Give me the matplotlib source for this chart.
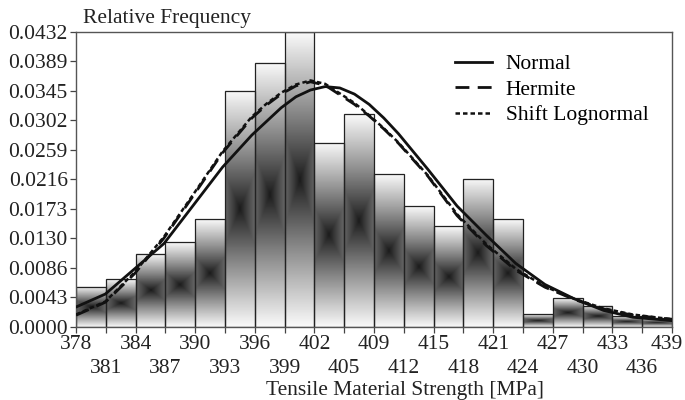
import matplotlib
matplotlib.use('Agg')
import matplotlib.pyplot as plt
from matplotlib.lines import Line2D
from matplotlib.transforms import offset_copy
import numpy as np

plt.rcParams['font.family'] = ['Liberation Serif', 'DejaVu Serif']

# histogram: 20 bins of width 3.05 from 378 to 439
bin_start = 378.0
bin_width = 3.05
rel_freq = [0.0059, 0.0070, 0.0107, 0.0124, 0.0158, 0.0346, 0.0387, 0.0432, 0.0270, 0.0312,
            0.0224, 0.0177, 0.0148, 0.0217, 0.0158, 0.0019, 0.0042, 0.0031, 0.0016, 0.0013]
tick_labels = ['378', '381', '384', '387', '390', '393', '396', '399', '402', '405', '409',
               '412', '415', '418', '421', '424', '427', '430', '433', '436', '439']
ytick_labels = ['0.0000', '0.0043', '0.0086', '0.0130', '0.0173', '0.0216',
                '0.0259', '0.0302', '0.0345', '0.0389', '0.0432']

# fitted curves
normal_x = [378, 381, 384, 387, 390, 393, 396, 399, 400.5, 402, 403.5, 405, 406.5, 408,
            409.5, 411, 414, 417, 420, 423, 426, 429, 432, 435, 439]
normal_y = [0.0029, 0.0048, 0.0085, 0.0122, 0.0178, 0.0234, 0.0281, 0.0321, 0.0337, 0.0347,
            0.0352, 0.0350, 0.0341, 0.0326, 0.0306, 0.0283, 0.0231, 0.0177, 0.0134, 0.0093,
            0.0062, 0.0041, 0.0024, 0.0014, 0.0009]
hermite_x = [378, 381, 384, 387, 390, 393, 396, 397.5, 399, 400.5, 402, 403.5, 405, 406.5,
             408, 409.5, 411, 414, 417, 420, 423, 426, 429, 432, 435, 439]
hermite_y = [0.0017, 0.0036, 0.0078, 0.0130, 0.0192, 0.0255, 0.0306, 0.0325, 0.0341, 0.0353,
             0.0359, 0.0354, 0.0340, 0.0326, 0.0309, 0.0290, 0.0269, 0.0221, 0.0163, 0.0119,
             0.0083, 0.0058, 0.0040, 0.0026, 0.0017, 0.0011]
lognorm_x = hermite_x
lognorm_y = [0.0018, 0.0037, 0.0080, 0.0132, 0.0194, 0.0257, 0.0308, 0.0327, 0.0343, 0.0355,
             0.0361, 0.0356, 0.0342, 0.0328, 0.0310, 0.0291, 0.0270, 0.0222, 0.0165, 0.0121,
             0.0085, 0.0059, 0.0041, 0.0027, 0.0018, 0.0011]

fig = plt.figure(figsize=(6.85, 4.0), dpi=100)
ax = fig.add_axes([0.111, 0.183, 0.870, 0.737])

edges = bin_start + bin_width * np.arange(len(rel_freq) + 1)

# shaded bars: light at top and bottom, dark in the middle
yy, xx = np.mgrid[-1:1:80j, -1:1:40j]
shade = np.maximum(np.abs(yy), 0.3 * np.abs(xx))
shade = 0.1 + 0.87 * shade ** 0.9
for i, h in enumerate(rel_freq):
    ax.imshow(shade, extent=[edges[i], edges[i + 1], 0, h], cmap='gray', vmin=0, vmax=1,
              aspect='auto', interpolation='bilinear', zorder=1)
ax.bar(edges[:-1], rel_freq, width=bin_width, align='edge', fill=False,
       edgecolor='#222222', linewidth=0.9, zorder=2)

ax.plot(normal_x, normal_y, color='#111111', lw=2.0, zorder=4)
ax.plot(hermite_x, hermite_y, color='#111111', lw=2.0, dashes=(5, 3), zorder=3)
ax.plot(lognorm_x, lognorm_y, color='#111111', lw=1.8, dashes=(1.8, 1.2), zorder=3)

ax.set_xlim(edges[0], edges[-1])
ax.set_ylim(0, 0.0432)

ax.set_xticks(edges)
ax.set_xticklabels(tick_labels, fontsize=15.5, color='#222222')
ax.set_yticks(np.linspace(0, 0.0432, 11))
ax.set_yticklabels(ytick_labels, fontsize=15.5, color='#222222')
ax.tick_params(axis='both', direction='out', length=4, width=0.9, color='#444444', pad=2)

# staggered labels: every second one on a lower row, last one kept inside the figure
xlabs = ax.get_xticklabels()
for i, lab in enumerate(xlabs):
    dx = -5 if i == len(xlabs) - 1 else 0
    dy = -24 if i % 2 == 1 else 0
    if dx or dy:
        lab.set_transform(offset_copy(lab.get_transform(), fig=fig, x=dx, y=dy, units='dots'))

for s in ax.spines.values():
    s.set_color('#555555')
    s.set_linewidth(1.0)

fig.text(0.121, 0.9425, 'Relative Frequency', fontsize=15.5, color='#222222', va='baseline')
fig.text(0.591, 0.012, 'Tensile Material Strength [MPa]', fontsize=15.5, color='#222222',
         ha='center', va='baseline')

handles = [Line2D([], [], color='#111111', lw=2.0),
           Line2D([], [], color='#111111', lw=2.0, dashes=(5, 3)),
           Line2D([], [], color='#111111', lw=1.8, dashes=(1.8, 1.2))]
ax.legend(handles, ['Normal', 'Hermite', 'Shift Lognormal'], loc='upper left',
          bbox_to_anchor=(0.636, 0.913), bbox_transform=fig.transFigure, frameon=False,
          fontsize=15.5, handlelength=1.7, labelspacing=0.25, handletextpad=0.65)

plt.savefig('out.png')
